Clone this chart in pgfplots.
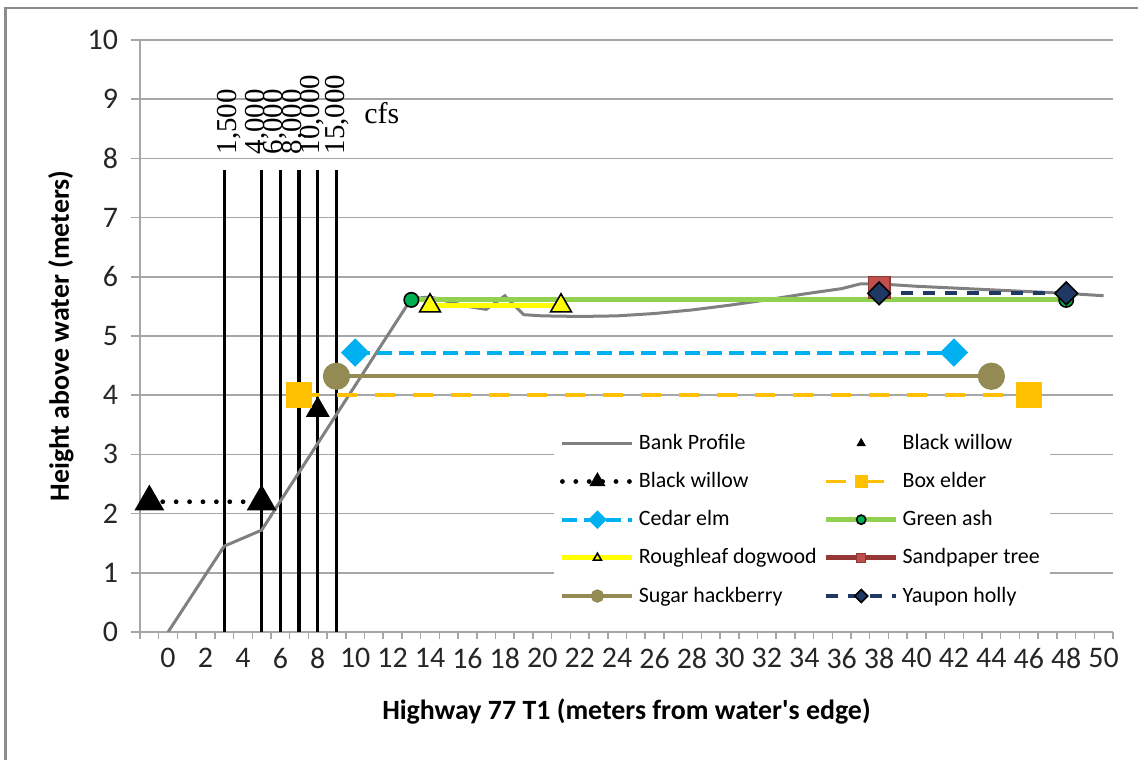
\documentclass[border=0pt]{standalone}
\usepackage{fontspec}
\setmainfont{Carlito}
\newfontfamily\serifcfs{Liberation Serif}
\usepackage{pgfplots}
\pgfplotsset{compat=1.18}
\definecolor{gridc}{HTML}{A6A6A6}
\definecolor{framec}{HTML}{8C8C8C}
\definecolor{bankc}{HTML}{808080}
\definecolor{boxelder}{HTML}{FFC000}
\definecolor{cedarelm}{HTML}{00B0F0}
\definecolor{greenash}{HTML}{92D050}
\definecolor{greenmk}{HTML}{00B050}
\definecolor{rough}{HTML}{FFFF00}
\definecolor{sandline}{HTML}{953735}
\definecolor{sandmk}{HTML}{C0504D}
\definecolor{sandedge}{HTML}{8C3836}
\definecolor{sugar}{HTML}{948A54}
\definecolor{yaupon}{HTML}{1F3864}
\begin{document}
\begin{tikzpicture}
\useasboundingbox (0,0) rectangle (569bp,380bp);
\draw[color=framec, line width=1.2bp] (2.8bp,-10bp) -- (2.8bp,376bp) -- (590bp,376bp);
\begin{axis}[
  at={(70bp,64bp)}, anchor=south west,
  scale only axis, width=486.5bp, height=296bp,
  xmin=-1.5, xmax=50.5, ymin=0, ymax=10,
  axis lines*=left,
  axis line style={gridc, line width=0.75bp},
  xtick={0,2,...,50}, minor xtick={-1.5,-0.5,...,50.5},
  ytick={0,1,...,10},
  tick align=outside,
  tick style={gridc, line width=0.75bp},
  major x tick style={draw=none},
  minor tick length=3.5bp, major tick length=4.5bp,
  ymajorgrids, major grid style={gridc, line width=0.75bp},
  tick label style={font=\fontsize{15}{17}\selectfont, text=black!85},
  yticklabel style={xshift=-3bp},
  /pgf/number format/assume math mode=true,
  xlabel={Highway 77 T1 (meters from water\textquotesingle s edge)},
  ylabel={Height above water (meters)},
  label style={font=\bfseries\fontsize{14}{16}\selectfont},
  xlabel style={at={(axis description cs:0.5,-0.1351)}, anchor=center},
  ylabel style={at={(axis description cs:-0.0812,0.5)}, anchor=center},
  legend columns=2,
  legend cell align=left,
  legend style={at={(axis cs:20.6,3.55)}, anchor=north west, draw=none, fill=white,
    font=\fontsize{11}{13}\selectfont, inner xsep=3bp, inner ysep=4bp, row sep=6bp,
    /tikz/every even column/.append style={column sep=1.5bp}},
  legend image code/.code={\draw[mark repeat=2, mark phase=2, #1] plot coordinates {(0bp,0bp) (17.5bp,0bp) (35bp,0bp)};},
  legend image post style={mark size=2.3bp},
]
% flow lines
\addplot[black, line width=1.7bp, forget plot] coordinates {(3,0) (3,7.8)};
\addplot[black, line width=1.7bp, forget plot] coordinates {(5,0) (5,7.8)};
\addplot[black, line width=1.7bp, forget plot] coordinates {(6,0) (6,7.8)};
\addplot[black, line width=1.7bp, forget plot] coordinates {(7,0) (7,7.8)};
\addplot[black, line width=1.7bp, forget plot] coordinates {(8,0) (8,7.8)};
\addplot[black, line width=1.7bp, forget plot] coordinates {(9,0) (9,7.8)};

\addplot[bankc, line width=1.5bp] coordinates {
 (0,0) (3,1.45) (5,1.72) (13,5.63) (14,5.66) (15,5.58) (16,5.5) (17,5.45) (18,5.68)
 (19,5.36) (20,5.34) (22,5.33) (24,5.34) (26,5.38) (28,5.44) (30,5.52) (32,5.61)
 (34,5.71) (36,5.8) (37,5.88) (38,5.88) (40,5.84) (44,5.78) (48,5.72) (50,5.68)};
\addlegendentry{Bank Profile}

\addplot[only marks, mark=triangle*, mark size=6.5bp, black] coordinates {(8,3.75)};
\addlegendentry{Black willow}

\addplot[black, line width=2.4bp, line cap=round, dash pattern=on 0bp off 6.7bp, mark=triangle*, mark size=6.2bp, mark options={solid}] coordinates {(-1,2.2) (5,2.2)};
\addlegendentry{Black willow}

\addplot[boxelder, line width=1.9bp, dash pattern=on 10bp off 9bp, mark=square*, mark size=5.5bp, mark options={solid}] coordinates {(7,4) (46,4)};
\addlegendentry{Box elder}

\addplot[cedarelm, line width=2bp, dash pattern=on 7.5bp off 3.5bp, mark=square*, mark size=4bp, mark options={solid, rotate=45}] coordinates {(10,4.72) (42,4.72)};
\addlegendentry{Cedar elm}

\addplot[greenash, line width=2.5bp, mark=*, mark size=3.6bp, mark options={fill=greenmk, draw=black, line width=0.8bp}] coordinates {(13,5.61) (48,5.61)};
\addlegendentry{Green ash}

\addplot[rough, line width=2.5bp, mark=triangle*, mark size=6bp, mark options={fill=rough, draw=black, line width=0.8bp}] coordinates {(14,5.51) (21,5.51)};
\addlegendentry{Roughleaf dogwood}

\addplot[sandline, line width=2.5bp, mark=square*, mark size=5.4bp, mark options={fill=sandmk, draw=sandedge, line width=0.6bp}] coordinates {(38,5.82)};
\addlegendentry{Sandpaper tree}

\addplot[sugar, line width=2bp, mark=*, mark size=5.8bp] coordinates {(9,4.32) (44,4.32)};
\addlegendentry{Sugar hackberry}

\addplot[yaupon, line width=2bp, dash pattern=on 6bp off 5bp, mark=square*, mark size=4bp, mark options={solid, rotate=45, fill=yaupon, draw=black, line width=0.8bp}] coordinates {(38,5.72) (48,5.72)};
\addlegendentry{Yaupon holly}

% flow labels
\begin{scope}[every node/.style={rotate=90, anchor=west, inner sep=0pt, font=\serifcfs\fontsize{14.5}{16}\selectfont}]
\node at (axis cs:3.27,8.06) {1,500};
\node at (axis cs:4.78,8.06) {4,000};
\node at (axis cs:5.70,8.06) {6,000};
\node at (axis cs:6.74,8.06) {8,000};
\node at (axis cs:7.71,8.06) {10,000};
\node at (axis cs:9.05,8.06) {15,000};
\end{scope}
\node[inner sep=0pt, font=\serifcfs\fontsize{15}{17}\selectfont] at (axis cs:11.42,8.77) {cfs};
\end{axis}
\end{tikzpicture}
\end{document}
